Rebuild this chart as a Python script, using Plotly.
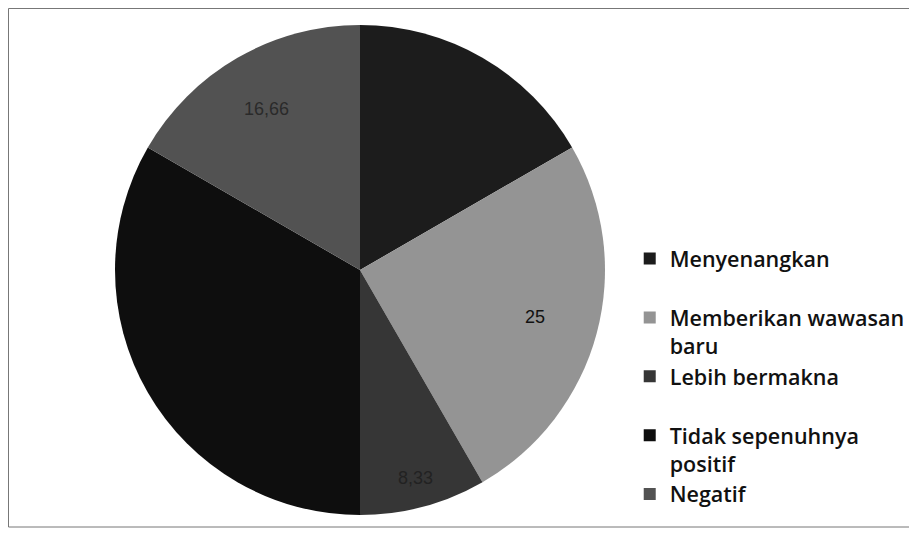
import math
import plotly.graph_objects as go

categories = ["Menyenangkan", "Memberikan wawasan baru", "Lebih bermakna",
              "Tidak sepenuhnya positif", "Negatif"]
legend_labels = ["Menyenangkan<br> ", "Memberikan wawasan<br>baru", "Lebih bermakna<br> ",
                 "Tidak sepenuhnya<br>positif", "Negatif"]
values = [16.66, 25, 8.33, 33.33, 16.66]
shown_labels = ["", "25", "8,33", "", "16,66"]
colors = ["#1c1c1c", "#949494", "#363636", "#0e0e0e", "#525252"]

W, H = 917, 533
# figure-space geometry (page shows the figure offset by the body margin)
cx, cy_top, R = 352, 262, 245
cy = H - cy_top
dom_x = [(cx - R) / W, (cx + R) / W]
dom_y = [(cy - R) / H, (cy + R) / H]

fig = go.Figure(go.Pie(
    labels=legend_labels,
    values=values,
    sort=False,
    direction="clockwise",
    rotation=0,
    marker=dict(colors=colors, line=dict(width=0)),
    textinfo="none",
    hovertext=categories,
    hoverinfo="text+value",
    domain=dict(x=dom_x, y=dom_y),
))

# label placement derived from slice geometry
radial = [0.6, 0.74, 0.88, 0.6, 0.76]
label_colors = ["#222", "#111", "#222", "#222", "#2a2a2a"]
total = sum(values)
cum = 0
for v, t, f, c in zip(values, shown_labels, radial, label_colors):
    mid = (cum + v / 2) / total * 2 * math.pi
    cum += v
    if not t:
        continue
    px = cx + f * R * math.sin(mid)
    py = cy + f * R * math.cos(mid)
    fig.add_annotation(x=px / W, y=py / H, xref="paper", yref="paper",
                       xanchor="center", yanchor="middle",
                       text=t, showarrow=False,
                       font=dict(family="Liberation Sans", size=18, color=c))

fig.add_shape(type="rect", xref="paper", yref="paper",
              x0=0.5 / W, x1=904 / W, y0=(H - 519) / H, y1=(H - 0.5) / H,
              line=dict(color="#777", width=1))

fig.update_layout(
    width=W, height=H,
    margin=dict(l=0, r=0, t=0, b=0, autoexpand=False),
    paper_bgcolor="white",
    plot_bgcolor="white",
    showlegend=True,
    legend=dict(x=0.678, y=1 - 230 / H, xanchor="left", yanchor="top",
                valign="top", itemwidth=30,
                font=dict(family="Open Sans", size=21.5, color="#111", weight=600),
                bgcolor="rgba(0,0,0,0)"),
)

fig.write_html("out.html")
